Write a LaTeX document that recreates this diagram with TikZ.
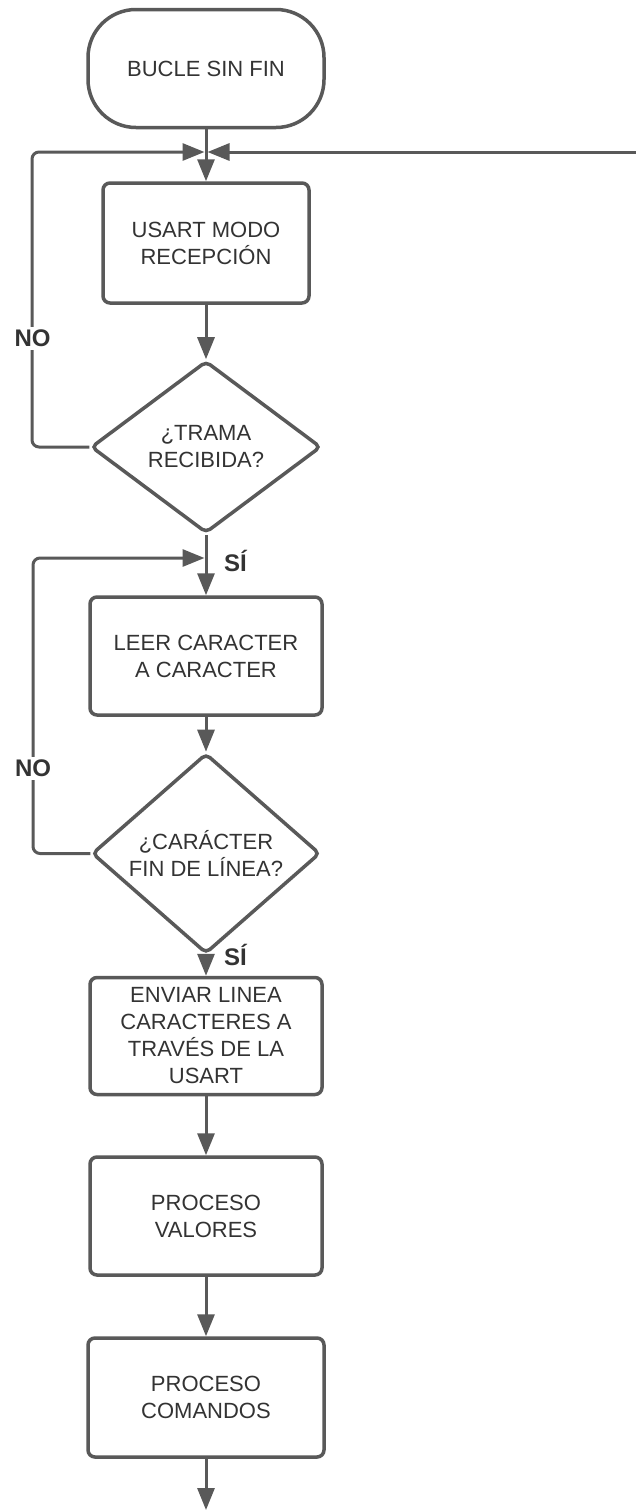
\documentclass[tikz,border=0pt]{standalone}
\usepackage{fontspec}
\setmainfont{Liberation Sans}
\usetikzlibrary{shapes.geometric,arrows.meta}
\definecolor{ln}{HTML}{595959}
\definecolor{tx}{HTML}{333333}
\begin{document}
\begin{tikzpicture}[x=1pt,y=-1pt,
  every node/.style={text=tx, font=\fontsize{22}{27}\selectfont, align=center, inner sep=0pt},
  boxstyle/.style={draw=ln, line width=3.5pt, rounded corners=7pt},
  procbox/.style={boxstyle, rectangle, minimum width=#1, minimum height=118pt},
  decis/.style={draw=ln, line width=3.5pt, diamond, rounded corners=5pt, minimum width=230pt, minimum height=172pt},
  conn/.style={draw=ln, line width=3pt, -{Triangle[length=22pt,width=17pt]}},
  loopconn/.style={conn, rounded corners=7pt},
  lbl/.style={font=\fontsize{24}{28}\selectfont\bfseries, text=tx},
]
\useasboundingbox (0,0) rectangle (636,1510);
\fill[white] (0,0) rectangle (636,1510);

\node[boxstyle, rectangle, rounded corners=48pt, minimum width=236pt, minimum height=118pt] (term) at (206,68.5) {BUCLE SIN FIN};
\node[procbox=206pt, minimum height=120pt] (usart) at (206,243) {USART MODO\\RECEPCIÓN};
\node[decis] (d1) at (206,447) {¿TRAMA\\RECIBIDA?};
\node[procbox=232pt] (leer) at (206,656) {LEER CARACTER\\A CARACTER};
\node[decis, minimum width=228pt, minimum height=173pt] (d2) at (206,853.5) {¿CARÁCTER\\FIN DE LÍNEA?};
\node[procbox=232pt, minimum height=117pt] (env) at (206,1036) {ENVIAR LINEA\\CARACTERES A\\TRAVÉS DE LA\\USART};
\node[procbox=232pt] (val) at (206,1216) {PROCESO\\VALORES};
\node[procbox=236pt, minimum height=119pt] (com) at (206,1397.5) {PROCESO\\COMANDOS};

\coordinate (j1) at (206,152);
\coordinate (j2) at (206,558);
\coordinate (nl1) at (32,152);
\coordinate (nl2) at (33,558);
\coordinate (r1) at (636,152);
\coordinate (endp) at (206,1510);

\draw[conn] (term) -- (usart);
\draw[conn] (usart) -- (d1);
\draw[conn] (d1) -- (leer);
\draw[conn] (leer) -- (d2);
\draw[conn] (d2) -- (env);
\draw[conn] (env) -- (val);
\draw[conn] (val) -- (com);
\draw[conn] (com) -- (endp);

\draw[loopconn, shorten >=1.5pt] (d1.west) -| (nl1) -- (j1);
\draw[conn, shorten >=1.5pt] (r1) -- (j1);
\draw[loopconn, shorten >=1.5pt] (d2.west) -| (nl2) -- (j2);

\node[lbl, fill=white, inner sep=3pt] (no1) at (32.5,338) {NO};
\node[lbl, fill=white, inner sep=3pt] (no2) at (33,768) {NO};
\node[lbl, anchor=west] (si1) at (224,561) {SÍ};
\node[lbl, anchor=west] (si2) at (224,955) {SÍ};
\end{tikzpicture}
\end{document}
